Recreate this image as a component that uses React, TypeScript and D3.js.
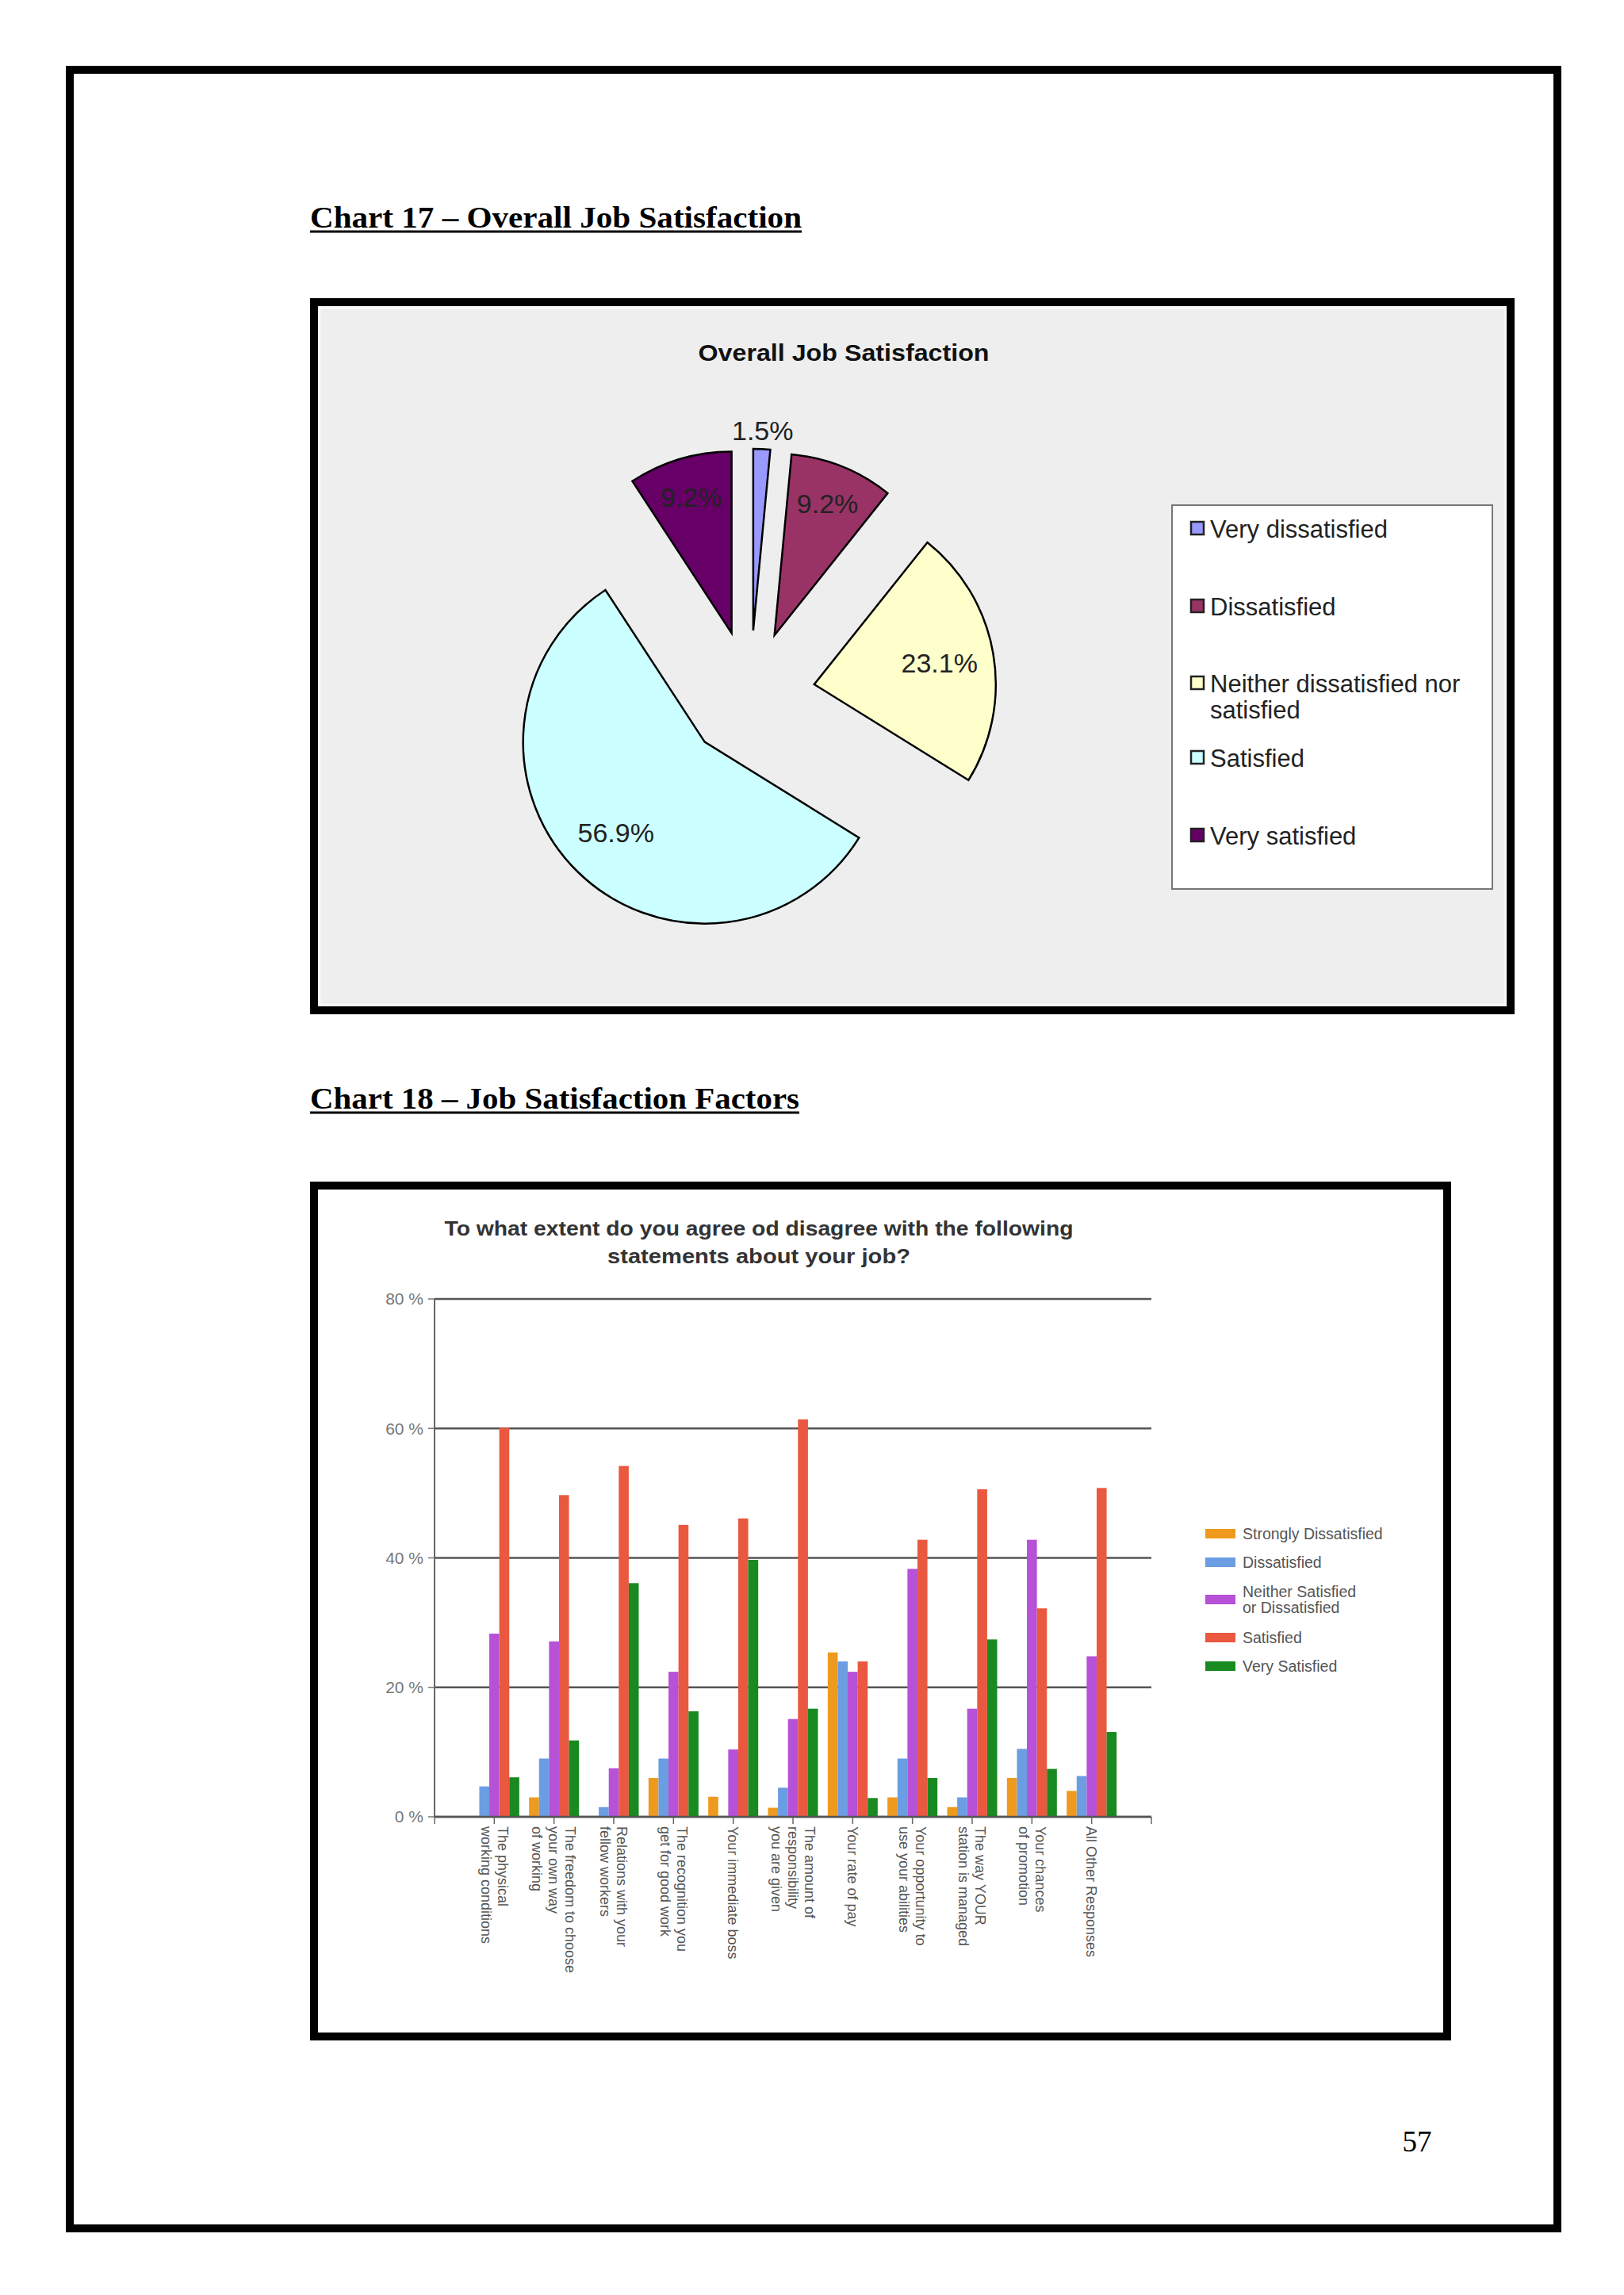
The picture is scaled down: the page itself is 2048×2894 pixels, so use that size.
import React from 'react';
import * as d3 from 'd3';

// ---- Chart 17 data ----
const pieLegend = [
  ['Very dissatisfied'],
  ['Dissatisfied'],
  ['Neither dissatisfied nor', 'satisfied'],
  ['Satisfied'],
  ['Very satisfied'],
];
const pieValues = [1.5, 9.2, 23.1, 56.9, 9.2];
const pieColors = ['#9999ff', '#993366', '#ffffcc', '#ccffff', '#660066'];

// ---- Chart 18 data ----
const categories = [
  ['The physical', 'working conditions'],
  ['The freedom to choose', 'your own way', 'of working'],
  ['Relations with your', 'fellow workers'],
  ['The recognition you', 'get for good work'],
  ['Your immediate boss'],
  ['The amount of', 'responsibility', 'you are given'],
  ['Your rate of pay'],
  ['Your opportunity to', 'use your abilities'],
  ['The way YOUR', 'station is managed'],
  ['Your chances', 'of promotion'],
  ['All Other Responses'],
];
const seriesNames = [
  ['Strongly Dissatisfied'],
  ['Dissatisfied'],
  ['Neither Satisfied', 'or Dissatisfied'],
  ['Satisfied'],
  ['Very Satisfied'],
];
const stronglyDissatisfied = [0, 3.0, 0, 6.0, 3.1, 1.4, 25.4, 3.0, 1.5, 6.0, 4.0];
const dissatisfied = [4.7, 9.0, 1.5, 9.0, 0, 4.5, 24.0, 9.0, 3.0, 10.5, 6.3];
const neither = [28.3, 27.1, 7.5, 22.4, 10.4, 15.1, 22.4, 38.3, 16.7, 42.8, 24.8];
const satisfied = [60.1, 49.7, 54.2, 45.1, 46.1, 61.4, 24.0, 42.8, 50.6, 32.2, 50.8];
const verySatisfied = [6.1, 11.8, 36.1, 16.3, 39.7, 16.7, 2.9, 6.0, 27.4, 7.4, 13.1];
const barColors = ['#ee9a1f', '#6b9de2', '#b651d8', '#ea583f', '#188a20'];
const yTicks = [0, 20, 40, 60, 80];

const sans = 'Liberation Sans, Arial, sans-serif';
const serif = 'Liberation Serif, Times New Roman, serif';

const PieChart = () => {
  const cx = 946, cy = 877, R = 229, explode = 82;
  const arcs = d3.pie<number>().sort(null).value(d => d)(pieValues);
  const arc = d3.arc<d3.PieArcDatum<number>>().innerRadius(0).outerRadius(R);
  const legendY = [678, 776, 873, 967, 1065];

  return (
    <g>
      <rect x={396} y={381} width={1509} height={893} fill="#eeeeee" stroke="#000" strokeWidth={10} />
      <rect x={403} y={388} width={1495} height={879} fill="none" stroke="#f8f8f8" strokeWidth={3} />
      <text x={1064} y={455} textAnchor="middle" fontFamily={sans} fontWeight="bold" fontSize={30}
        textLength={367} lengthAdjust="spacingAndGlyphs" fill="#111">Overall Job Satisfaction</text>
      {arcs.map((a, i) => {
        const mid = (a.startAngle + a.endAngle) / 2;
        const ox = cx + Math.sin(mid) * explode;
        const oy = cy - Math.cos(mid) * explode;
        const ratio = a.value < 5 ? 1.1 : a.value < 15 ? 0.78 : 0.7;
        const lx = ox + Math.sin(mid) * R * ratio;
        const ly = oy - Math.cos(mid) * R * ratio;
        return (
          <g key={i} transform={`translate(${ox},${oy})`}>
            <path d={arc(a) || ''} fill={pieColors[i]} stroke="#000" strokeWidth={2.5} strokeLinejoin="miter" />
            <text x={lx - ox} y={ly - oy} dy="0.35em" textAnchor="middle" fontFamily={sans} fontSize={34}
              fill="#222">{a.value.toFixed(1)}%</text>
          </g>
        );
      })}
      <rect x={1478} y={637} width={404} height={484} fill="#fff" stroke="#777" strokeWidth={2} />
      {pieLegend.map((lines, i) => (
        <g key={i}>
          <rect x={1502} y={legendY[i] - 20} width={16} height={16} fill={pieColors[i]} stroke="#222" strokeWidth={2.5} />
          {lines.map((l, j) => (
            <text key={j} x={1526} y={legendY[i] + j * 33} fontFamily={sans} fontSize={31} fill="#222">{l}</text>
          ))}
        </g>
      ))}
    </g>
  );
};

const BarChart = () => {
  const left = 548, right = 1452, top = 1638, bottom = 2291;
  const seriesValues = [stronglyDissatisfied, dissatisfied, neither, satisfied, verySatisfied];
  const x = d3.scalePoint<number>().domain(d3.range(categories.length)).range([left, right]).padding(1);
  const inner = d3.scaleBand<number>().domain(d3.range(seriesValues.length)).range([-31.5, 31.5]);
  const y = d3.scaleLinear().domain([0, 80]).range([bottom, top]);
  const legendY = [1934, 1970, 2017, 2065, 2101];

  return (
    <g>
      <rect x={396} y={1495} width={1429} height={1073} fill="#fff" stroke="#000" strokeWidth={10} />
      <text x={957} y={1558} textAnchor="middle" fontFamily={sans} fontWeight="bold" fontSize={26}
        textLength={793} lengthAdjust="spacingAndGlyphs" fill="#333">To what extent do you agree od disagree with the following</text>
      <text x={957} y={1593} textAnchor="middle" fontFamily={sans} fontWeight="bold" fontSize={26}
        textLength={382} lengthAdjust="spacingAndGlyphs" fill="#333">statements about your job?</text>
      {yTicks.map(t => (
        <g key={t}>
          <line x1={left} x2={right} y1={y(t)} y2={y(t)} stroke="#555" strokeWidth={2.5} />
          <line x1={left - 8} x2={left} y1={y(t)} y2={y(t)} stroke="#777" strokeWidth={1.5} />
          <text x={left - 14} y={y(t)} dy="0.35em" textAnchor="end" fontFamily={sans} fontSize={21} fill="#777">{t} %</text>
        </g>
      ))}
      <line x1={left} x2={left} y1={top} y2={bottom} stroke="#666" strokeWidth={2} />
      {seriesValues.map((vals, s) => vals.map((v, c) => (
        v > 0 ? (
          <rect key={`${s}-${c}`} x={(x(c) as number) + (inner(s) as number)} y={y(v)}
            width={inner.bandwidth()} height={bottom - y(v)} fill={barColors[s]} />
        ) : null
      )))}
      <line x1={left} x2={right} y1={bottom} y2={bottom} stroke="#555" strokeWidth={2.5} />
      {[left, right].map((t, i) => (
        <line key={i} x1={t} x2={t} y1={bottom} y2={bottom + 9} stroke="#666" strokeWidth={1.5} />
      ))}
      {categories.map((lines, c) => {
        const px = x(c) as number;
        return (
          <g key={c}>
            <line x1={px} x2={px} y1={bottom} y2={bottom + 9} stroke="#666" strokeWidth={1.5} />
            <g transform={`translate(${px},${bottom + 12}) rotate(90)`}>
              {lines.map((l, j) => (
                <text key={j} x={0} y={(j - (lines.length - 1) / 2) * 21} dy="0.35em" fontFamily={sans}
                  fontSize={18} fill="#555">{l}</text>
              ))}
            </g>
          </g>
        );
      })}
      {seriesNames.map((lines, s) => (
        <g key={s}>
          <rect x={1520} y={legendY[s] - 6} width={38} height={12} fill={barColors[s]} />
          {lines.map((l, j) => (
            <text key={j} x={1567} y={legendY[s] + (j - (lines.length - 1) / 2) * 20} dy="0.35em"
              fontFamily={sans} fontSize={19.5} fill="#555">{l}</text>
          ))}
        </g>
      ))}
    </g>
  );
};

export default function App() {
  return (
    <svg width={2048} height={2894} style={{ position: 'absolute', left: 0, top: 0, background: '#fff' }}>
      <rect x={0} y={0} width={2048} height={2894} fill="#fff" />
      <rect x={88} y={88} width={1876} height={2722} fill="none" stroke="#000" strokeWidth={10} />
      <text x={391} y={287} fontFamily={serif} fontWeight="bold" fontSize={38} textLength={620}
        lengthAdjust="spacingAndGlyphs">Chart 17 – Overall Job Satisfaction</text>
      <line x1={391} x2={1011} y1={292} y2={292} stroke="#000" strokeWidth={3} />
      <PieChart />
      <text x={391} y={1398} fontFamily={serif} fontWeight="bold" fontSize={38} textLength={617}
        lengthAdjust="spacingAndGlyphs">Chart 18 – Job Satisfaction Factors</text>
      <line x1={391} x2={1008} y1={1403} y2={1403} stroke="#000" strokeWidth={3} />
      <BarChart />
      <text x={1787} y={2713} textAnchor="middle" fontFamily={serif} fontSize={37}>57</text>
    </svg>
  );
}
